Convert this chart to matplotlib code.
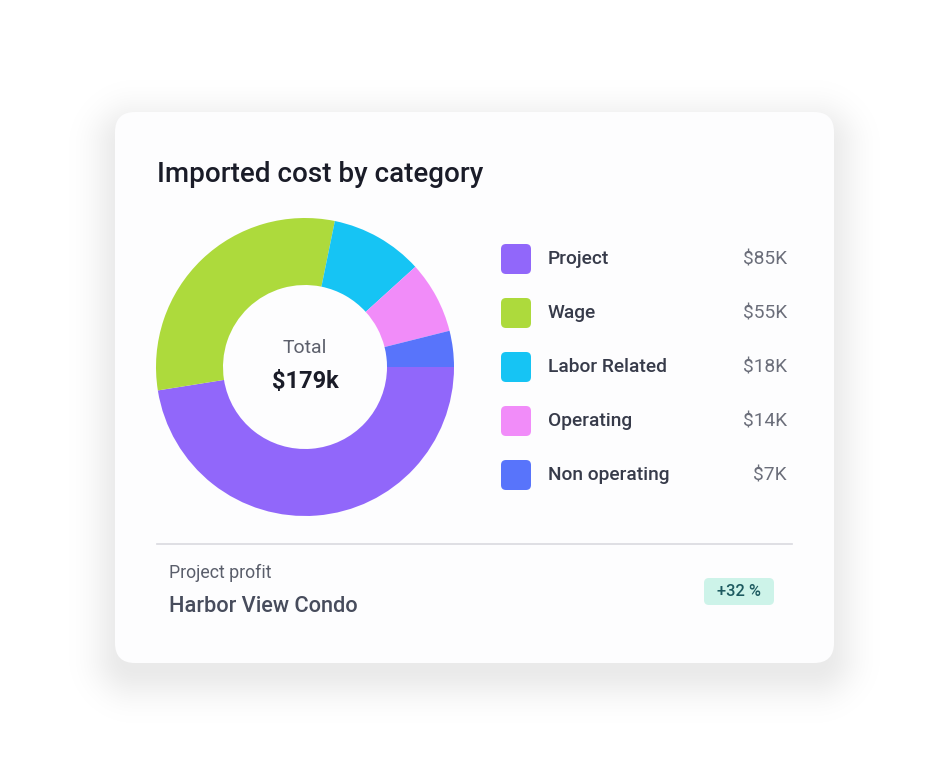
import matplotlib
matplotlib.use("Agg")
import matplotlib.pyplot as plt
import numpy as np
from matplotlib.patches import FancyBboxPatch

plt.rcParams['font.family'] = ['Roboto', 'DejaVu Sans']

# data
categories = ["Project", "Wage", "Labor Related", "Operating", "Non operating"]
values = [85, 55, 18, 14, 7]
value_labels = ["$85K", "$55K", "$18K", "$14K", "$7K"]
colors = ["#9167FA", "#ADDA3C", "#16C4F4", "#F18CF9", "#5874FB"]
title = "Imported cost by category"
total_label = "$179k"
profit_project = "Harbor View Condo"
profit_change = "+32 %"

W, H = 949, 781
fig = plt.figure(figsize=(W / 100, H / 100), dpi=100)
fig.patch.set_facecolor("white")

# background axes in pixel coords
bg = fig.add_axes([0, 0, 1, 1])
bg.set_xlim(0, W)
bg.set_ylim(H, 0)
bg.axis("off")

# card shadow: soft falloff from a rounded rectangle, drawn as an image
cx0, cy0, cw, ch = 115, 112, 719, 551
rad = 20
yy, xx = np.mgrid[0:H, 0:W] + 0.5
sx, sy = cx0 + cw / 2, cy0 + ch / 2 + 14
qx = np.abs(xx - sx) - (cw / 2 - rad)
qy = np.abs(yy - sy) - (ch / 2 - rad)
dist = np.hypot(np.maximum(qx, 0), np.maximum(qy, 0)) + np.minimum(np.maximum(qx, qy), 0) - rad
alpha = 0.085 * np.exp(-(np.maximum(dist + 10, 0) / 32.0) ** 2)
shadow = np.zeros((H, W, 4))
shadow[..., 3] = alpha
bg.imshow(shadow, extent=[0, W, H, 0], interpolation="bilinear", zorder=1, aspect="auto")
bg.set_xlim(0, W)
bg.set_ylim(H, 0)

bg.add_patch(FancyBboxPatch((cx0, cy0), cw, ch, boxstyle="round,pad=0,rounding_size=%d" % rad,
                            fc="#fdfdfe", ec="none", zorder=2))

bg.text(157, 174, title, fontsize=20, color="#1a1c28", fontweight="medium",
        ha="left", va="center", zorder=3)

# legend
for i, (cat, lab, col) in enumerate(zip(categories, value_labels, colors)):
    y = 259 + i * 54
    bg.add_patch(FancyBboxPatch((501, y - 15), 30, 30, boxstyle="round,pad=0,rounding_size=5",
                                fc=col, ec="none", zorder=3))
    bg.text(548, y, cat, fontsize=13.8, color="#373b4a", fontweight="medium",
            ha="left", va="center", zorder=3)
    bg.text(787, y, lab, fontsize=13.8, color="#6b6e7a", ha="right", va="center", zorder=3)

# divider and footer
bg.plot([157, 792], [544, 544], color="#d9d9df", lw=1.2, zorder=3)
bg.text(169, 573, "Project profit", fontsize=12.8, color="#5a5e6b", ha="left", va="center", zorder=3)
bg.text(169, 606, profit_project, fontsize=15.7, color="#474c5c", fontweight="medium",
        ha="left", va="center", zorder=3)
bg.add_patch(FancyBboxPatch((704, 578), 70, 27, boxstyle="round,pad=0,rounding_size=5",
                            fc="#CDF3E9", ec="none", zorder=3))
bg.text(739, 591.5, profit_change, fontsize=11.8, color="#1d5a60", fontweight="medium",
        ha="center", va="center", zorder=4)

# donut
r_out, r_in = 149, 82
pcx, pcy = 305, 367
ax = fig.add_axes([(pcx - r_out) / W, 1 - (pcy + r_out) / H, 2 * r_out / W, 2 * r_out / H])
ax.pie(values, colors=colors, startangle=0, counterclock=False, radius=1,
       wedgeprops=dict(width=(r_out - r_in) / r_out, edgecolor="none"))
ax.set_xlim(-1, 1)
ax.set_ylim(-1, 1)
ax.set_aspect("equal")
ax.axis("off")
ax.text(0, 0.13, "Total", fontsize=14, color="#5d606c", ha="center", va="center")
ax.text(0, -0.1, total_label, fontsize=17, color="#1a1c28", fontweight="bold",
        ha="center", va="center")

fig.savefig("out.png", dpi=100, facecolor="white")
